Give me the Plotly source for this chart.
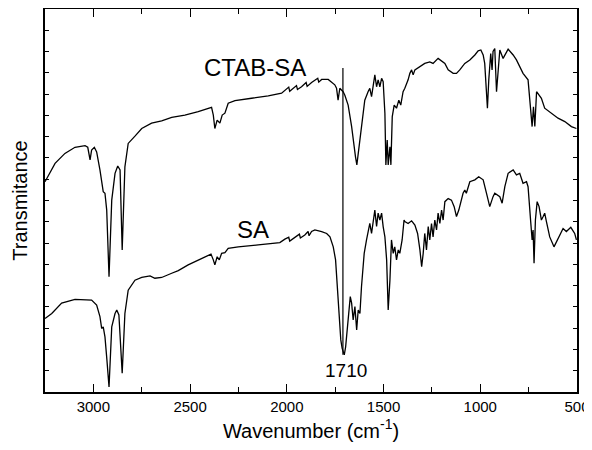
import plotly.graph_objects as go

# CTAB-SA spectrum (wavenumber cm-1, transmittance a.u.)
ctab_wn = [3250, 3198, 3147, 3095, 3043, 3029, 3017, 3009, 2995, 2983, 2966, 2949, 2940, 2931, 2919,
           2905, 2888, 2874, 2862, 2851, 2837, 2820, 2785, 2750, 2699, 2647, 2595, 2527, 2458, 2389,
           2380, 2372, 2360, 2346, 2334, 2320, 2303, 2268, 2182, 2096, 2027, 2010, 1990, 1985, 1975,
           1950, 1945, 1924, 1900, 1895, 1872, 1855, 1840, 1835, 1820, 1786, 1769, 1752, 1743, 1735,
           1726, 1709, 1700, 1683, 1665, 1652, 1645, 1638, 1631, 1614, 1597, 1580, 1571, 1562, 1554,
           1545, 1536, 1528, 1519, 1510, 1502, 1493, 1488, 1481, 1476, 1467, 1462, 1455, 1445, 1433,
           1421, 1411, 1399, 1390, 1373, 1364, 1355, 1347, 1338, 1312, 1287, 1261, 1244, 1218, 1200,
           1183, 1166, 1140, 1123, 1106, 1080, 1054, 1028, 1011, 997, 985, 977, 970, 963, 956,
           946, 939, 934, 925, 916, 899, 882, 856, 830, 813, 779, 753, 739, 732, 725,
           718, 709, 684, 667, 632, 598, 563, 529, 503]
ctab_t = [54.9, 59.7, 62.3, 63.9, 64.3, 63.9, 60.6, 63.2, 63.9, 62.7, 58.0, 52.3, 51.9, 47.5, 30.1,
          50.1, 57.1, 59.0, 58.0, 37.1, 58.8, 64.9, 66.8, 68.8, 70.2, 70.8, 71.7, 72.3, 73.2, 74.3,
          72.3, 68.8, 71.0, 70.2, 72.3, 72.8, 75.4, 76.1, 76.7, 77.3, 78.0, 78.7, 79.6, 78.5, 79.0,
          80.0, 79.0, 79.7, 80.8, 79.8, 80.8, 81.4, 81.9, 80.9, 81.6, 81.6, 81.0, 80.2, 79.3, 76.2,
          79.3, 78.4, 77.5, 74.9, 69.3, 63.2, 61.4, 59.3, 62.3, 70.2, 76.2, 78.4, 79.3, 77.1, 80.2,
          82.8, 79.7, 81.5, 79.7, 81.9, 81.0, 72.8, 59.3, 65.8, 59.3, 64.0, 59.3, 71.9, 74.9, 74.1,
          76.2, 74.9, 78.4, 79.3, 81.5, 83.2, 84.1, 82.8, 84.1, 84.9, 85.8, 86.2, 85.8, 87.1, 86.5,
          85.8, 84.1, 83.2, 83.2, 84.1, 85.8, 86.7, 88.0, 89.1, 89.3, 88.0, 85.8, 78.9, 74.1, 81.5,
          88.4, 84.1, 88.9, 89.7, 78.4, 89.3, 87.1, 89.5, 88.0, 86.7, 83.2, 81.5, 74.5, 69.3, 74.5,
          69.3, 78.4, 76.7, 74.1, 72.8, 71.5, 70.6, 69.3, 68.8]

# SA spectrum
sa_wn = [3250, 3215, 3164, 3095, 3009, 2983, 2966, 2957, 2949, 2940, 2930, 2919, 2905, 2888, 2879,
         2868, 2851, 2837, 2820, 2785, 2750, 2707, 2682, 2647, 2595, 2561, 2510, 2440, 2392, 2380,
         2372, 2360, 2349, 2337, 2320, 2303, 2251, 2148, 2036, 2010, 1990, 1985, 1958, 1935, 1930,
         1907, 1890, 1885, 1872, 1855, 1820, 1794, 1777, 1760, 1748, 1738, 1731, 1721, 1714, 1703,
         1696, 1690, 1683, 1672, 1665, 1657, 1648, 1639, 1631, 1622, 1614, 1600, 1588, 1580, 1571,
         1562, 1554, 1545, 1536, 1528, 1519, 1510, 1502, 1493, 1484, 1476, 1467, 1459, 1450, 1442,
         1433, 1424, 1416, 1404, 1394, 1390, 1373, 1355, 1338, 1324, 1312, 1303, 1295, 1287, 1278,
         1269, 1261, 1252, 1244, 1235, 1226, 1218, 1209, 1200, 1192, 1183, 1166, 1149, 1135, 1123,
         1111, 1097, 1089, 1080, 1072, 1054, 1028, 1008, 985, 968, 951, 934, 925, 899, 887,
         873, 856, 830, 813, 796, 779, 761, 753, 740, 732, 727, 722, 715, 706, 696,
         684, 675, 667, 658, 641, 619, 598, 572, 555, 532, 512, 503]
sa_t = [19.2, 20.5, 23.2, 24.2, 24.0, 22.7, 19.7, 16.6, 17.0, 14.4, 8.4, 1.3, 17.0, 20.5, 21.4,
        20.1, 4.9, 20.5, 26.6, 29.2, 29.9, 30.3, 29.7, 29.9, 31.0, 31.7, 33.2, 34.9, 36.0, 34.5,
        33.2, 35.3, 34.5, 36.2, 36.4, 37.5, 37.9, 38.4, 39.0, 39.9, 40.4, 39.4, 40.4, 41.2, 40.2,
        41.0, 41.9, 40.8, 41.9, 42.3, 41.9, 41.4, 40.5, 37.9, 34.5, 27.5, 20.5, 13.6, 11.4, 9.7,
        11.8, 15.3, 20.5, 24.9, 23.2, 18.8, 22.3, 16.2, 21.4, 20.5, 27.5, 36.2, 39.7, 42.3, 44.0,
        41.4, 44.9, 47.5, 43.2, 46.7, 44.9, 46.7, 43.2, 40.5, 34.5, 21.4, 29.2, 39.7, 36.2, 37.9,
        34.5, 37.1, 36.2, 39.7, 44.9, 44.5, 44.0, 44.7, 43.6, 41.4, 37.1, 32.7, 36.2, 41.4, 37.1,
        43.2, 39.7, 44.0, 40.5, 44.9, 42.3, 46.7, 44.0, 47.5, 44.9, 49.7, 50.5, 50.1, 48.4, 45.8,
        47.5, 50.1, 51.9, 52.7, 51.9, 54.9, 55.4, 56.2, 55.4, 51.9, 48.4, 51.0, 51.9, 51.0, 49.3,
        53.6, 57.1, 58.0, 56.7, 57.1, 54.5, 54.9, 53.6, 44.9, 39.7, 42.3, 33.6, 44.9, 49.7, 48.4,
        44.9, 45.8, 46.7, 44.5, 40.5, 37.9, 40.1, 42.7, 41.9, 43.0, 41.4, 39.7]

marker_wn = 1710
marker_top = 84.6
marker_bottom = 9.7

FONT = "Liberation Sans, Arial, sans-serif"

fig = go.Figure()
fig.add_trace(go.Scatter(x=ctab_wn, y=ctab_t, mode="lines", name="CTAB-SA",
                         line=dict(color="black", width=1.3), showlegend=False))
fig.add_trace(go.Scatter(x=sa_wn, y=sa_t, mode="lines", name="SA",
                         line=dict(color="black", width=1.3), showlegend=False))

fig.add_shape(type="line", xref="x", yref="y", x0=marker_wn, x1=marker_wn,
              y0=marker_bottom, y1=marker_top, line=dict(color="black", width=1.2))

fig.add_annotation(x=2165, y=84.6, text="CTAB-SA", showarrow=False,
                   font=dict(size=24, color="black", family=FONT))
fig.add_annotation(x=2175, y=42.3, text="SA", showarrow=False,
                   font=dict(size=24, color="black", family=FONT))
fig.add_annotation(x=1695, y=5.7, text="1710", showarrow=False,
                   font=dict(size=19, color="black", family=FONT))

# The page body adds an 8 px offset, so the figure is sized to fill the rest of the window.
fig.update_layout(
    width=584, height=442,
    margin=dict(l=37, r=15, t=1, b=58, autoexpand=False),
    paper_bgcolor="white", plot_bgcolor="white",
    font=dict(family=FONT, color="black"),
    xaxis=dict(
        range=[3250, 500], tickmode="array", tickvals=[3000, 2500, 2000, 1500, 1000, 500],
        ticktext=["3000", "2500", "2000", "1500", "1000", "500"],
        ticks="inside", ticklen=8, tickwidth=1.3, tickcolor="black",
        minor=dict(tickvals=[3250, 2750, 2250, 1750, 1250, 750], ticks="inside", ticklen=5,
                   tickwidth=1.3, tickcolor="black"),
        showline=True, linecolor="black", linewidth=1.5, mirror="ticks",
        showgrid=False, zeroline=False, automargin=False,
        tickfont=dict(size=15, family=FONT),
        title=dict(text="Wavenumber (cm<sup>-1</sup>)", font=dict(size=20, family=FONT), standoff=10),
    ),
    yaxis=dict(
        range=[0, 100], tickmode="linear", tick0=0, dtick=100 / 18,
        ticks="inside", ticklen=4, tickwidth=1.3, tickcolor="black",
        showticklabels=False,
        showline=True, linecolor="black", linewidth=1.5, mirror="ticks",
        showgrid=False, zeroline=False, automargin=False,
        title=dict(text="Transmitance", font=dict(size=20, family=FONT), standoff=10),
    ),
)

fig.write_html("out.html")
